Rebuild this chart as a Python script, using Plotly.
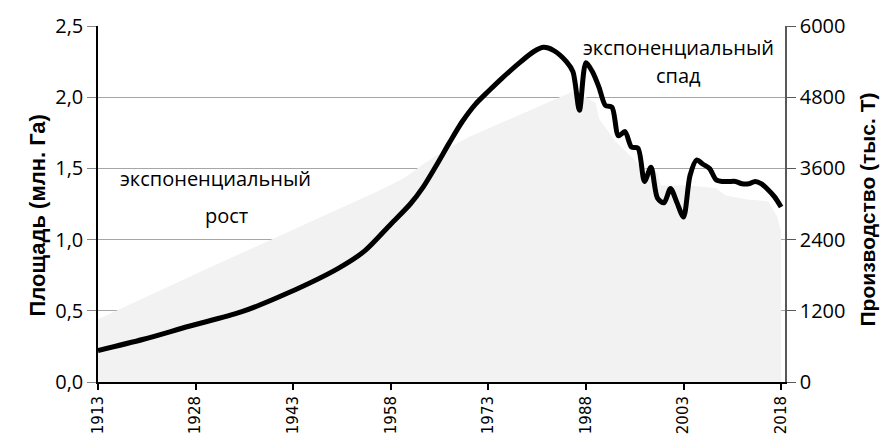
import plotly.graph_objects as go

# Area (left axis, млн. Га)
area_years = [1913, 1930, 1956, 1960, 1963, 1966, 1970, 1986, 1988, 1989.5, 1990, 1992.5,
              1995, 1996.5, 1999, 1999.5, 2004, 2008, 2009.5, 2013, 2016, 2017.3, 2018]
area_values = [0.44, 0.80, 1.34, 1.43, 1.53, 1.62, 1.72, 2.04, 2.00, 1.96, 1.85, 1.69,
               1.58, 1.51, 1.47, 1.38, 1.38, 1.36, 1.31, 1.28, 1.27, 1.17, 1.06]

# Production (right axis, тыс. Т)
prod_years = [1913, 1920, 1927, 1935, 1942, 1950, 1954, 1958, 1961, 1963, 1965, 1967, 1969,
              1971, 1973, 1975, 1978, 1980, 1981.5, 1983, 1985, 1986, 1987, 1988, 1989,
              1990, 1991, 1992, 1993, 1994, 1995, 1996, 1997, 1998, 1999, 2000, 2001, 2002,
              2003, 2004, 2005, 2006, 2007, 2008, 2009, 2010, 2011, 2012, 2013, 2014, 2015,
              2016, 2017, 2018]
prod_values = [530, 720, 940, 1180, 1490, 1920, 2210, 2660, 3000, 3290, 3650, 4030, 4390,
               4680, 4900, 5110, 5400, 5570, 5640, 5590, 5400, 5230, 4580, 5380, 5230,
               4970, 4660, 4630, 4150, 4220, 3960, 3940, 3380, 3620, 3100, 3020, 3260, 3020,
               2780, 3480, 3740, 3670, 3600, 3410, 3380, 3380, 3380, 3340, 3340, 3380, 3340,
               3240, 3120, 2950]

x_ticks = [1913, 1928, 1943, 1958, 1973, 1988, 2003, 2018]
left_ticks = [0, 0.5, 1.0, 1.5, 2.0, 2.5]
right_ticks = [0, 1200, 2400, 3600, 4800, 6000]

fig = go.Figure()
fig.add_trace(go.Scatter(x=area_years, y=area_values, mode="lines", fill="tozeroy",
                         fillcolor="#f2f2f2", line=dict(width=0, color="#f2f2f2"),
                         yaxis="y", showlegend=False, hoverinfo="skip"))
fig.add_trace(go.Scatter(x=prod_years, y=prod_values, mode="lines",
                         line=dict(color="black", width=5, shape="spline", smoothing=0.8),
                         yaxis="y2", showlegend=False))

fig.update_layout(
    width=896, height=446,
    margin=dict(l=98, r=111, t=25, b=60),
    plot_bgcolor="white", paper_bgcolor="white",
    separators=", ",
    font=dict(family="Open Sans", color="black"),
    xaxis=dict(range=[1913, 2018.6], tickmode="array", tickvals=x_ticks,
               ticktext=[str(t) for t in x_ticks], tickangle=-90,
               tickfont=dict(family="DejaVu Sans", size=15, color="black"),
               ticks="outside", ticklen=6, tickwidth=1.5, tickcolor="black",
               showline=True, linecolor="black", linewidth=2, showgrid=False,
               zeroline=False),
    yaxis=dict(range=[0, 2.5], tickmode="array", tickvals=left_ticks, tickformat=".1f",
               tickfont=dict(size=20, color="black"),
               ticks="outside", ticklen=9, tickcolor="#888888", tickwidth=1,
               showline=True, linecolor="black", linewidth=1.5,
               showgrid=True, gridcolor="#a6a6a6", gridwidth=1.3, zeroline=False),
    yaxis2=dict(range=[0, 6000], tickmode="array", tickvals=right_ticks,
                overlaying="y", side="right",
                tickfont=dict(size=20, color="black"),
                ticks="outside", ticklen=9, tickcolor="#595959", tickwidth=1,
                showline=True, linecolor="#595959", linewidth=1.5,
                showgrid=False, zeroline=False),
)

ann_font = dict(family="Open Sans", size=20, color="black")
fig.add_annotation(xref="x", yref="y", x=1931.0, y=1.427, text="экспоненциальный",
                   showarrow=False, font=ann_font)
fig.add_annotation(xref="x", yref="y", x=1932.8, y=1.17, text="рост",
                   showarrow=False, font=ann_font)
fig.add_annotation(xref="x", yref="y", x=2002.2, y=2.35, text="экспоненциальный",
                   showarrow=False, font=ann_font)
fig.add_annotation(xref="x", yref="y", x=2002.2, y=2.15, text="спад",
                   showarrow=False, font=ann_font)

fig.add_annotation(xref="paper", yref="paper", x=0, y=0.5, xshift=-76, yshift=-12,
                   text="<b>Площадь (млн. Га)</b>", textangle=-90, showarrow=False,
                   font=dict(family="Liberation Sans", size=22, color="black"))
fig.add_annotation(xref="paper", yref="paper", x=1, y=0.5, xshift=95, yshift=-6,
                   text="<b>Производство (тыс. Т)</b>", textangle=-90, showarrow=False,
                   font=dict(family="Liberation Sans", size=21, color="black"))

fig.write_html("out.html", config={"displayModeBar": False},
               post_script="document.body.style.margin='0';")
